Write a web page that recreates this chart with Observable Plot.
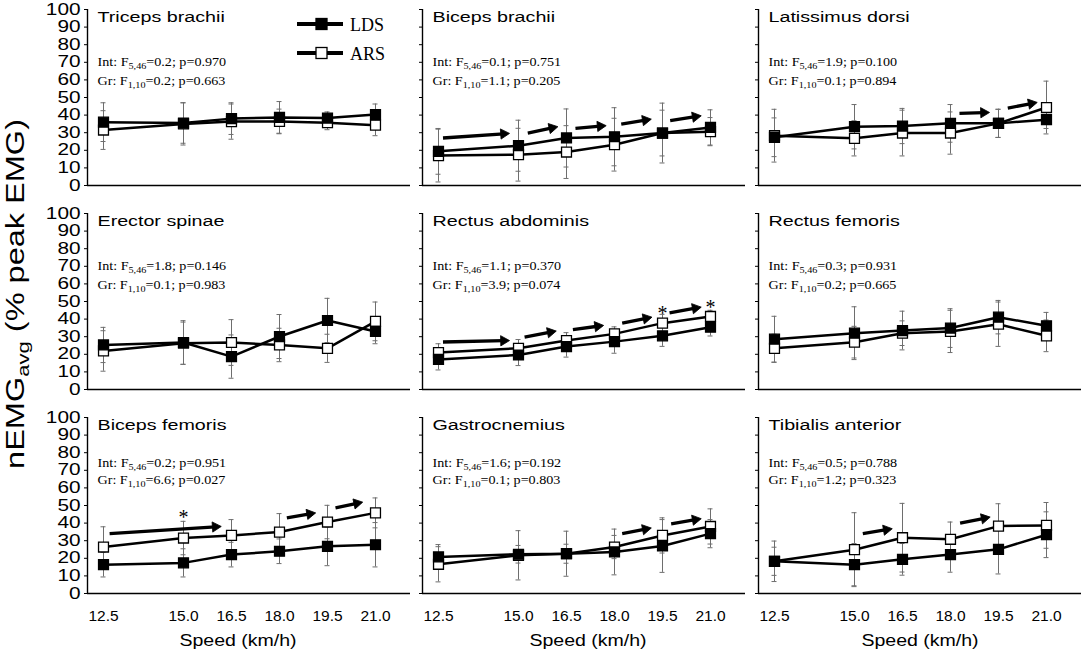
<!DOCTYPE html>
<html><head><meta charset="utf-8">
<script src="https://cdn.jsdelivr.net/npm/d3@7"></script>
<script src="https://cdn.jsdelivr.net/npm/@observablehq/plot@0.6"></script>
<style>
body{margin:0;background:#fff;}
#chart{position:relative;width:1084px;height:652px;overflow:hidden;font-family:"Liberation Sans",Arial,sans-serif;}
.panel{position:absolute;}
</style></head><body><div id="chart"></div>
<script>
// ---------- DATA ----------
const speeds = [12.5, 15.0, 16.5, 18.0, 19.5, 21.0];
const yTicks = [0, 10, 20, 30, 40, 50, 60, 70, 80, 90, 100];
const groups = ["LDS", "ARS"];
const muscles = ["Triceps brachii", "Biceps brachii", "Latissimus dorsi",
  "Erector spinae", "Rectus abdominis", "Rectus femoris",
  "Biceps femoris", "Gastrocnemius", "Tibialis anterior"];

const ldsMean = [
  [36.0, 35.5, 38.0, 38.7, 38.3, 40.3],
  [19.4, 22.6, 27.0, 27.7, 29.8, 33.0],
  [27.4, 33.4, 33.8, 35.3, 35.3, 37.4],
  [25.3, 26.7, 18.7, 30.1, 39.2, 33.0],
  [17.1, 19.6, 24.4, 27.2, 30.5, 35.4],
  [28.6, 32.0, 33.5, 34.9, 41.1, 36.2],
  [16.4, 17.4, 22.1, 24.0, 26.8, 27.7],
  [20.8, 22.3, 22.6, 23.6, 27.0, 34.0],
  [18.3, 16.4, 19.4, 22.1, 25.1, 33.4]];
const ldsSd = [
  [11, 11.5, 9, 9, 3.5, 6],
  [13, 14.5, 16.5, 16.5, 17, 10],
  [11, 12.6, 10, 10.7, 8, 5],
  [10, 12.4, 12.3, 12.5, 12.6, 7],
  [6, 6, 6, 6.6, 6, 5],
  [13, 15, 11, 11, 9.5, 7.6],
  [7, 8, 7, 7, 11, 12.6],
  [7, 5, 5.4, 13, 15, 8],
  [11.5, 12, 9, 10, 14, 13]];
const arsMean = [
  [31.5, 35.0, 36.3, 36.4, 35.7, 34.3],
  [17.0, 17.5, 19.0, 23.2, 29.8, 30.6],
  [28.3, 26.8, 29.8, 29.8, 35.3, 44.3],
  [21.9, 26.3, 26.7, 25.3, 23.4, 38.7],
  [21.0, 23.4, 27.8, 31.6, 37.7, 41.5],
  [23.4, 26.9, 32.0, 33.0, 37.1, 30.5],
  [26.4, 31.5, 33.0, 34.9, 40.6, 45.8],
  [16.6, 21.7, 22.6, 26.4, 33.0, 38.1],
  [18.3, 24.9, 31.7, 30.8, 38.3, 38.7]];
const arsSd = [
  [11, 12, 10, 7, 4, 6],
  [15, 15, 15, 15, 13, 8],
  [15, 10, 13, 12, 8, 15],
  [11.5, 12, 13, 9.5, 8, 11],
  [5, 5, 4.5, 4, 5, 3.5],
  [8, 9, 7, 12, 12.6, 9],
  [11.5, 9.5, 9, 10.5, 9.5, 8.5],
  [10, 14, 12.8, 6.6, 10, 10],
  [8, 21, 19.5, 9.8, 12.7, 13]];

const intF = [0.2, 0.1, 1.9, 1.8, 1.1, 0.3, 0.2, 1.6, 0.5];
const intP = [0.970, 0.751, 0.100, 0.146, 0.370, 0.931, 0.951, 0.192, 0.788];
const grF = [0.2, 1.1, 0.1, 0.1, 3.9, 0.2, 6.6, 0.1, 1.2];
const grP = [0.663, 0.205, 0.894, 0.983, 0.074, 0.665, 0.027, 0.803, 0.323];

// significance arrows (speed / value coordinates)
const arrowPanel = [1, 1, 1, 1, 1, 2, 2, 4, 4, 4, 4, 4, 6, 6, 6, 7, 7, 8, 8];
const arrowX1 = [12.64, 15.29, 16.78, 18.21, 19.74, 18.28, 19.79, 12.64, 15.19, 16.70, 18.24, 19.72, 12.69, 18.23, 19.75, 18.24, 19.77, 15.26, 18.30];
const arrowY1 = [27.0, 29.8, 32.5, 34.9, 36.8, 41.0, 44.0, 27.0, 29.8, 34.0, 37.7, 43.6, 34.0, 43.0, 48.7, 34.0, 39.6, 34.0, 40.0];
const arrowX2 = [14.72, 16.23, 17.74, 19.15, 20.71, 19.22, 20.71, 14.72, 16.18, 17.66, 19.17, 20.71, 16.18, 19.13, 20.60, 19.15, 20.71, 16.18, 19.24];
const arrowY2 = [29.6, 33.4, 34.0, 37.7, 39.6, 41.5, 47.2, 27.8, 33.2, 36.4, 41.1, 46.8, 38.1, 45.8, 51.9, 37.2, 42.5, 36.8, 43.4];

// asterisks
const starPanel = [4, 4, 6];
const starX = [19.5, 21.0, 15.0];
const starY = [45.8, 49.6, 45.7];

// ---------- LAYOUT ----------
const COL_X = [87, 422, 758];
const ROW_Y = [9, 213, 417];
const PW = 323, PH = 176;
const mL = 50, mR = 8, mT = 8, mB = 60;
const xDomain = [12.0, 12.0 + PW / 32];
const kx = PW / (xDomain[1] - xDomain[0]), ky = PH / 100;
const statDy = [[56, 75], [56, 75], [49, 66]];
const xTitleDx = [-11, 4, 0];
const SANS = "Liberation Sans, Arial, sans-serif";
const SERIF = "Liberation Serif, Times New Roman, serif";
const HEAD_R = 3.8;
const headTip = 2 * Math.sqrt(Math.PI * HEAD_R * HEAD_R / (3 * Math.sqrt(3)));

const container = document.getElementById("chart");
const NS = "http://www.w3.org/2000/svg";

function stretch(root, selector, k) {
  root.querySelectorAll(selector).forEach(t => {
    const L = t.getComputedTextLength();
    if (L > 0) {
      t.setAttribute("textLength", (L * k).toFixed(1));
      t.setAttribute("lengthAdjust", "spacingAndGlyphs");
    }
  });
}

muscles.forEach((name, m) => {
  const row = Math.floor(m / 3), col = m % 3;
  const pts = [];
  groups.forEach(g => speeds.forEach((s, i) => {
    const mean = g === "LDS" ? ldsMean[m][i] : arsMean[m][i];
    const sd = g === "LDS" ? ldsSd[m][i] : arsSd[m][i];
    pts.push({speed: s, group: g, mean, lo: Math.max(0, mean - sd), hi: mean + sd});
  }));
  const arrows = [];
  arrowPanel.forEach((p, i) => {
    if (p !== m) return;
    const dxp = (arrowX2[i] - arrowX1[i]) * kx, dyp = -(arrowY2[i] - arrowY1[i]) * ky;
    const len = Math.hypot(dxp, dyp), ux = dxp / len, uy = dyp / len;
    arrows.push({
      x1: arrowX1[i], y1: arrowY1[i],
      cx: arrowX2[i] - headTip * ux / kx, cy: arrowY2[i] + headTip * uy / ky,
      rot: Math.atan2(ux, -uy) * 180 / Math.PI
    });
  });
  const stars = starPanel.map((p, i) => ({p, x: starX[i], y: starY[i]})).filter(d => d.p === m);
  const capW = 2.5 / kx;

  const marks = [
    Plot.ruleX(pts, {x: "speed", y1: "lo", y2: "hi", stroke: "#6e6e6e", strokeWidth: 1}),
    Plot.ruleY(pts, {y: "hi", x1: d => d.speed - capW, x2: d => d.speed + capW, stroke: "#6e6e6e", strokeWidth: 1}),
    Plot.ruleY(pts, {y: "lo", x1: d => d.speed - capW, x2: d => d.speed + capW, stroke: "#6e6e6e", strokeWidth: 1}),
    Plot.ruleY([0], {stroke: "black", strokeWidth: 1.4}),
    Plot.ruleX([xDomain[0]], {y1: 0, y2: 100, stroke: "black", strokeWidth: 1.4}),
    Plot.axisY(yTicks, {tickSize: 3, tickPadding: 4, fontSize: 16,
      tickFormat: col === 0 ? d => String(d) : () => ""}),
    row === 2
      ? Plot.axisX(speeds, {tickSize: 0, tickPadding: 16, fontSize: 15.5, tickFormat: d => d.toFixed(1)})
      : Plot.axisX([]),
    Plot.line(pts, {x: "speed", y: "mean", z: "group", stroke: "black", strokeWidth: 2.5}),
    Plot.dot(pts.filter(d => d.group === "ARS"), {x: "speed", y: "mean", symbol: "square", r: 5.6, fill: "white", stroke: "black", strokeWidth: 1.3}),
    Plot.dot(pts.filter(d => d.group === "LDS"), {x: "speed", y: "mean", symbol: "square", r: 5.6, fill: "black", stroke: "black", strokeWidth: 1.3}),
    Plot.link(arrows, {x1: "x1", y1: "y1", x2: "cx", y2: "cy", stroke: "black", strokeWidth: 3.3}),
    Plot.dot(arrows, {x: "cx", y: "cy", symbol: "triangle", r: HEAD_R, rotate: "rot", fill: "black", stroke: "black", strokeWidth: 0.8}),
    Plot.text(stars, {x: "x", y: "y", text: () => "*", fontFamily: SERIF, fontSize: 20, dy: 5}),
    Plot.text([name], {text: d => d, frameAnchor: "top-left", dx: 10, dy: 12, lineAnchor: "bottom", textAnchor: "start", fontSize: 15.5}),
    Plot.text([`Int: F|5,46|=${intF[m].toFixed(1)}; p=${intP[m].toFixed(3)}`], {text: d => d, frameAnchor: "top-left", dx: 10, dy: statDy[row][0], lineAnchor: "bottom", textAnchor: "start", fontFamily: SERIF, fontSize: 12.5}),
    Plot.text([`Gr: F|1,10|=${grF[m].toFixed(1)}; p=${grP[m].toFixed(3)}`], {text: d => d, frameAnchor: "top-left", dx: 10, dy: statDy[row][1], lineAnchor: "bottom", textAnchor: "start", fontFamily: SERIF, fontSize: 12.5})
  ];
  if (row === 2) {
    marks.push(Plot.text(["Speed (km/h)"], {text: d => d, frameAnchor: "bottom", dx: xTitleDx[col], dy: 52, lineAnchor: "bottom", fontSize: 16}));
  }

  const plot = Plot.plot({
    width: mL + PW + mR, height: mT + PH + mB,
    marginLeft: mL, marginRight: mR, marginTop: mT, marginBottom: mB,
    x: {domain: xDomain, label: null},
    y: {domain: [0, 100], label: null},
    style: {background: "transparent", overflow: "visible", fontFamily: SANS, maxWidth: "none", color: "black"},
    marks
  });
  const div = document.createElement("div");
  div.className = "panel";
  div.style.left = (COL_X[col] - mL) + "px";
  div.style.top = (ROW_Y[row] - mT) + "px";
  div.appendChild(plot);
  container.appendChild(div);

  // subscripts in statistics lines
  plot.querySelectorAll("text").forEach(t => {
    if (!t.textContent.includes("|")) return;
    const parts = t.textContent.split("|");
    t.textContent = "";
    const a = document.createElementNS(NS, "tspan"); a.textContent = parts[0];
    const b = document.createElementNS(NS, "tspan"); b.textContent = parts[1];
    b.setAttribute("font-size", "9"); b.setAttribute("dy", "3");
    const c = document.createElementNS(NS, "tspan"); c.textContent = parts[2];
    c.setAttribute("dy", "-3");
    t.append(a, b, c);
    t.setAttribute("data-kind", "pstat");
  });
  plot.querySelectorAll("text").forEach(t => {
    if (t.textContent === name) t.setAttribute("data-kind", "ptitle");
    if (t.textContent === "Speed (km/h)") t.setAttribute("data-kind", "xtitle");
  });
  stretch(plot, 'g[aria-label="y-axis tick label"] text', 1.3);
  stretch(plot, 'text[data-kind="ptitle"]', 1.27);
  stretch(plot, 'text[data-kind="pstat"]', 1.13);
  stretch(plot, 'text[data-kind="xtitle"]', 1.22);
});

// ---------- overlay: legend + y-axis title ----------
const legendLabels = ["LDS", "ARS"];
const legendFill = ["black", "white"];
const legendY = [24, 53];
const ov = d3.select(container).append("svg")
  .attr("width", 1084).attr("height", 652)
  .style("position", "absolute").style("left", 0).style("top", 0).style("pointer-events", "none");
const lg = ov.selectAll("g.leg").data(legendLabels).join("g").attr("class", "leg")
  .attr("transform", (d, i) => `translate(297,${legendY[i]})`);
lg.append("line").attr("x1", 0).attr("x2", 46).attr("y1", 0).attr("y2", 0).attr("stroke", "black").attr("stroke-width", 4);
lg.append("rect").attr("x", 19).attr("y", -5.5).attr("width", 11).attr("height", 11)
  .attr("fill", (d, i) => legendFill[i]).attr("stroke", "black").attr("stroke-width", 1.3);
lg.append("text").attr("x", 53).attr("y", 6.5).attr("font-family", SERIF).attr("font-size", 18).text(d => d);

const yt = ov.append("text").attr("transform", "translate(24,294) rotate(-90)")
  .attr("text-anchor", "middle").attr("font-family", SANS).attr("font-size", 25);
yt.append("tspan").text("nEMG");
yt.append("tspan").text("avg").attr("font-size", 17).attr("dy", 5);
yt.append("tspan").text(" (% peak EMG)").attr("dy", -5);
{
  const t = yt.node();
  const L = t.getComputedTextLength();
  t.setAttribute("textLength", (L * 1.3).toFixed(1));
  t.setAttribute("lengthAdjust", "spacingAndGlyphs");
}
</script></body></html>
